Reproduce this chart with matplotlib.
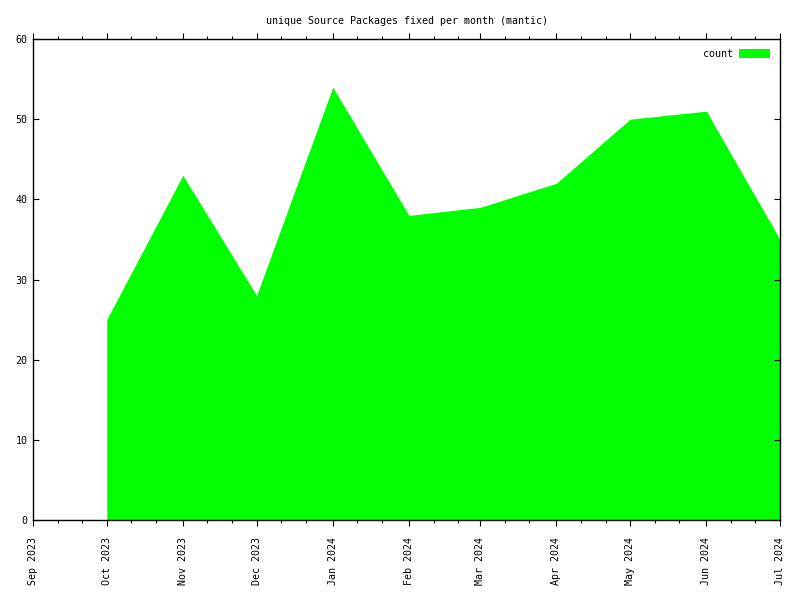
import numpy as np
import matplotlib
matplotlib.use('Agg')
import matplotlib.pyplot as plt
import matplotlib.dates as mdates
from matplotlib.patches import Patch
from datetime import datetime

plt.rcParams['font.family'] = ['DejaVu Sans Mono']
plt.rcParams['font.size'] = 7.2

# monthly counts (month start dates)
months = ['2023-10-01', '2023-11-01', '2023-12-01', '2024-01-01', '2024-02-01',
          '2024-03-01', '2024-04-01', '2024-05-01', '2024-06-01', '2024-07-01']
counts = [25, 43, 28, 54, 38, 39, 42, 50, 51, 35]
title = 'unique Source Packages fixed per month (mantic)'
series_name = 'count'
x_start = '2023-09-01'
x_end = '2024-07-01'

dates = [datetime.strptime(m, '%Y-%m-%d') for m in months]

fig = plt.figure(figsize=(8, 6), dpi=100)
ax = fig.add_axes([33/800, 1 - 520/600, (780-33)/800, (520-39)/600])

ax.fill_between(dates, counts, 0, color='#00ff00', linewidth=0, zorder=1)

ax.set_xlim(datetime.strptime(x_start, '%Y-%m-%d'), datetime.strptime(x_end, '%Y-%m-%d'))
ax.set_ylim(0, 60)
ax.set_yticks(np.arange(0, 61, 10))

ax.xaxis.set_major_locator(mdates.MonthLocator())
ax.xaxis.set_minor_locator(mdates.DayLocator(bymonthday=[11, 21]))
ax.xaxis.set_major_formatter(mdates.DateFormatter('%b %Y'))
plt.setp(ax.get_xticklabels(), rotation=90, ha='center', va='top')

ax.tick_params(axis='x', which='major', direction='out', length=4.5, width=0.8,
               top=True, bottom=True, pad=8)
ax.tick_params(axis='x', which='minor', direction='out', length=2.5, width=0.8,
               top=True, bottom=True)
ax.tick_params(axis='y', which='major', direction='in', length=4.5, width=0.8,
               left=True, right=True, pad=4)
ax.set_axisbelow(False)
for s in ax.spines.values():
    s.set_linewidth(1.0)
    s.set_zorder(3)

ax.set_title(title, fontsize=7.2, pad=11)

ax.legend(handles=[Patch(facecolor='#00ff00', edgecolor='none', label=series_name)],
          loc='upper right', frameon=False, markerfirst=False,
          handlelength=3.1, handleheight=0.9, handletextpad=0.6,
          borderaxespad=0.6, fontsize=7.2)

fig.savefig('out.png', dpi=100)
